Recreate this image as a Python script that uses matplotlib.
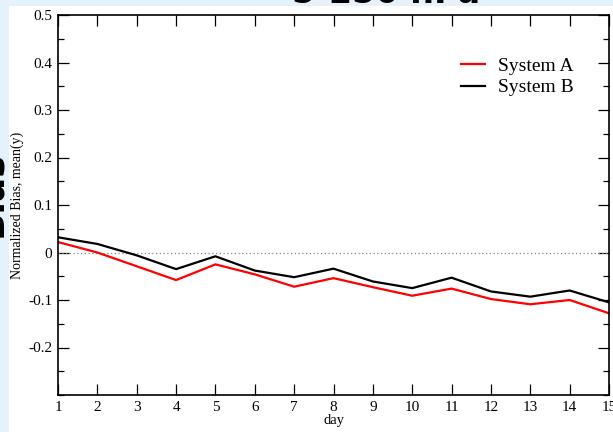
import numpy as np
import matplotlib.pyplot as plt
from matplotlib.patches import Rectangle
from matplotlib.ticker import MultipleLocator

days = list(range(1, 16))
system_a = [0.022, 0.0, -0.029, -0.058, -0.025, -0.046, -0.072, -0.054,
            -0.073, -0.091, -0.076, -0.098, -0.109, -0.100, -0.128]
system_b = [0.032, 0.018, -0.006, -0.035, -0.008, -0.038, -0.052, -0.034,
            -0.061, -0.075, -0.053, -0.082, -0.093, -0.080, -0.105]
ytick_vals = [-0.2, -0.1, 0, 0.1, 0.2, 0.3, 0.4, 0.5]
ytick_labels = ['-0.2', '-0.1', '0', '0.1', '0.2', '0.3', '0.4', '0.5']

W, H = 613, 432
fig = plt.figure(figsize=(W / 100, H / 100), dpi=100)
fig.patch.set_facecolor('#e6f2fb')

# slide text peeking out behind the pasted chart
fig.text(0.63, 1 - 3 / H, '5-250 hPa', ha='center', va='baseline',
         fontsize=24, fontweight='bold', family='DejaVu Sans', zorder=0)
fig.text(8 / W, 0.55, 'Bias', rotation=90, ha='right', va='center',
         fontsize=26, fontweight='bold', family='DejaVu Sans', zorder=0)

# white chart area
fig.patches.append(Rectangle((9 / W, 0), 1, 1 - 6 / H, transform=fig.transFigure,
                             facecolor='white', edgecolor='none', zorder=0.5))

ax = fig.add_axes([58 / W, 1 - 395 / H, (609 - 58) / W, (395 - 15) / H])
ax.set_zorder(1)

ax.axhline(0, color='#888888', lw=0.9, ls=(0, (1, 2)))
ax.plot(days, system_a, color='#ff0000', lw=1.6, label='System A')
ax.plot(days, system_b, color='#000000', lw=1.6, label='System B')

ax.set_xlim(1, 15)
ax.set_ylim(-0.3, 0.5)
ax.set_xticks(days)
ax.set_xticklabels([str(d) for d in days])
ax.set_yticks(ytick_vals)
ax.set_yticklabels(ytick_labels)
ax.yaxis.set_minor_locator(MultipleLocator(0.05))

ax.tick_params(which='both', direction='in', top=True, right=True,
               labelsize=11, width=0.9, pad=4)
ax.tick_params(which='major', length=8)
ax.tick_params(which='minor', length=4)
for lbl in ax.get_xticklabels() + ax.get_yticklabels():
    lbl.set_family('Liberation Serif')
for sp in ax.spines.values():
    sp.set_linewidth(1.2)

ax.set_xlabel('day', family='Liberation Serif', fontsize=10.5, labelpad=0)
ax.set_ylabel('Normalized Bias, mean(y)', family='Liberation Serif',
              fontsize=10, labelpad=3)

leg = ax.legend(loc='upper right', bbox_to_anchor=(0.968, 0.935), frameon=False,
                prop={'family': 'Liberation Serif', 'size': 14},
                handlelength=1.2, handletextpad=0.7, labelspacing=0.2)

fig.savefig('out.png', dpi=100, facecolor=fig.get_facecolor())
